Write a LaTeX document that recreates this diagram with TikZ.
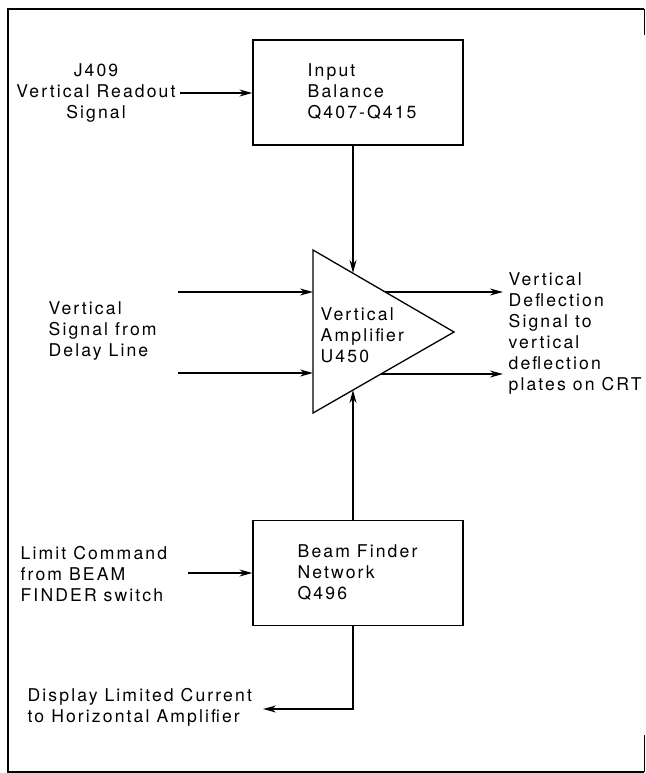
\documentclass[tikz,border=0pt]{standalone}
\usepackage{fontspec}
\newfontfamily\lbfont{TeX Gyre Heros}[LetterSpace=12]
\usetikzlibrary{arrows.meta}
\begin{document}
\begin{tikzpicture}[x=1pt,y=-1pt, line width=1.3pt, line join=miter,
  box/.style={draw, rectangle, minimum width=210pt, minimum height=105pt, inner sep=0pt},
  lbl/.style={font=\lbfont\fontsize{17.6}{21}\selectfont, align=left, inner sep=0pt, anchor=west},
  clbl/.style={font=\lbfont\fontsize{17.6}{21}\selectfont, align=center, inner sep=0pt},
  arr/.style={-{Stealth[length=13pt,width=7pt]}},
  frame/.style={line width=2pt}]
\useasboundingbox (0,0) rectangle (645,773);
% frame
\draw[frame] (644,9) -- (8,9) -- (8,772) -- (644,772);
\draw[line width=0.6pt] (644,9) -- (644,35);
\draw[line width=0.6pt] (644,735) -- (644,772);
% boxes
\node[box] (ib) at (358,92.5) {};
\node[box] (bf) at (358,573) {};
% triangle
\coordinate (tA) at (313,250);
\coordinate (tB) at (313,413);
\coordinate (tC) at (454,332);
\draw (tA) -- (tB) -- (tC) -- cycle;
% edge points
\coordinate (tTop) at (353,273);
\coordinate (tBot) at (353,390);
\coordinate (in1) at (178,292);
\coordinate (in2) at (178,373);
\coordinate (o1s) at (385,292);
\coordinate (o1e) at (503,292);
\coordinate (o2s) at (381,374);
\coordinate (o2e) at (503,374);
\coordinate (jin) at (180,93);
\coordinate (lin) at (188,573);
\coordinate (dout) at (263,709);
% connectors
\draw[arr] (ib.south -| tTop) -- (tTop);
\draw[arr] (bf.north -| tBot) -- (tBot);
\draw[arr] (in1) -- (in1 -| tA);
\draw[arr] (in2) -- (in2 -| tA);
\draw[arr] (o1s) -- (o1e);
\draw[arr] (o2s) -- (o2e);
\draw[arr] (jin) -- (jin -| ib.west);
\draw[arr] (lin) -- (lin -| bf.west);
\draw[arr] (bf.south -| tBot) |- (dout);
% texts
\node[lbl] (ibt) at (307,92) {Input\\Balance\\Q407-Q415};
\node[clbl] (jt) at (96,93) {J409\\Vertical Readout\\Signal};
\node[lbl] (vs) at (48,331) {Vertical\\Signal from\\Delay Line};
\node[lbl] (vat) at (320,335) {Vertical\\Amplifier\\U450};
\node[lbl] (vd) at (508,333.5) {Vertical\\Deflection\\Signal to\\vertical\\deflection\\plates on CRT};
\node[lbl] (lct) at (20,574) {Limit Command\\from BEAM\\FINDER switch};
\node[lbl] (bft) at (297,573) {Beam Finder\\Network\\Q496};
\node[lbl] (dt) at (27,707.5) {Display Limited Current\\to Horizontal Amplifier};
\end{tikzpicture}
\end{document}
